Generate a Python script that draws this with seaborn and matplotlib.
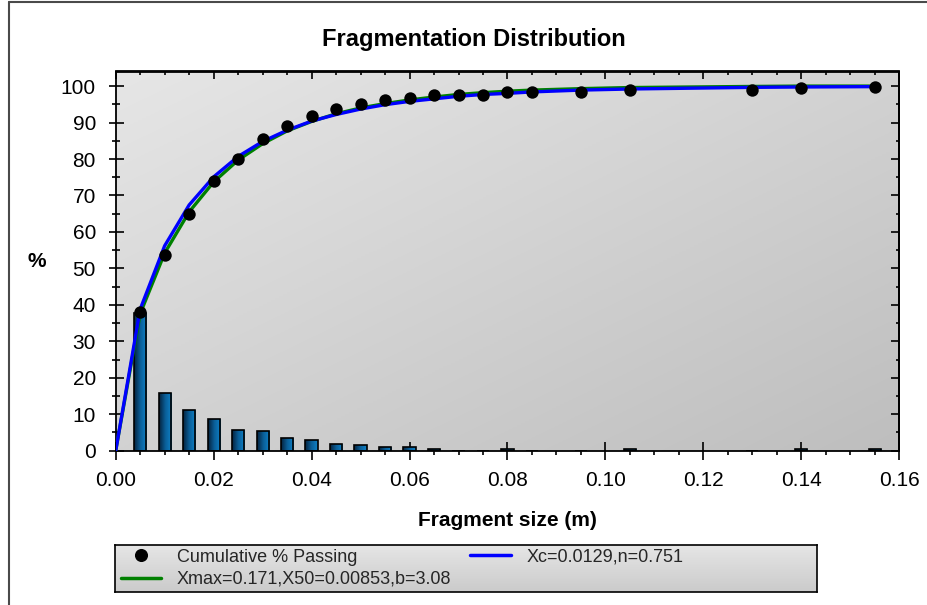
import numpy as np
import matplotlib
matplotlib.use("Agg")
import matplotlib.pyplot as plt
from matplotlib.lines import Line2D
from matplotlib.ticker import MultipleLocator, FormatStrFormatter
from matplotlib.colors import LinearSegmentedColormap
import seaborn as sns

# Screen sizes (m) and measured distribution
sizes = [0.005, 0.010, 0.015, 0.020, 0.025, 0.030, 0.035, 0.040, 0.045, 0.050,
         0.055, 0.060, 0.065, 0.070, 0.075, 0.080, 0.085, 0.095, 0.105, 0.130,
         0.140, 0.155]
retained = [37.8, 15.8, 11.2, 8.6, 5.8, 5.3, 3.5, 3.0, 1.8, 1.5,
            0.9, 0.9, 0.5, 0.0, 0.0, 0.5, 0.0, 0.0, 0.4, 0.0,
            0.4, 0.4]
passing = [38.0, 53.8, 65.0, 74.0, 80.0, 85.4, 89.0, 91.8, 93.6, 95.2,
           96.2, 96.8, 97.5, 97.5, 97.5, 98.3, 98.4, 98.5, 99.0, 99.0,
           99.4, 99.8]

# Fitted curves, sampled at the origin and at each screen size
fit_x = [0.0] + sizes
swebrec = [0.0, 37.6, 54.2, 65.5, 73.7, 79.7, 84.2, 87.7, 90.3, 92.4, 94.0,
           95.2, 96.2, 97.0, 97.7, 98.2, 98.6, 98.9, 99.3, 99.6, 99.9,
           100.0, 100.0]
rosin_rammler = [0.0, 38.8, 56.2, 67.4, 75.1, 80.7, 84.8, 87.9, 90.4, 92.2,
                 93.7, 94.9, 95.8, 96.5, 97.2, 97.7, 98.0, 98.4, 98.9, 99.2,
                 99.65, 99.75, 99.85]

legend_labels = ["Cumulative % Passing",
                 "Xmax=0.171,X50=0.00853,b=3.08",
                 "Xc=0.0129,n=0.751"]

sns.set_theme(style="white")
plt.rcParams["font.family"] = ["Liberation Sans", "DejaVu Sans"]

W, H = 928, 605
fig = plt.figure(figsize=(W / 100, H / 100), dpi=100)
fig.patch.set_facecolor("white")

ax_l, ax_r, ax_t, ax_b = 115.7, 899.3, 71.5, 450.7
ax = fig.add_axes([ax_l / W, 1 - ax_b / H, (ax_r - ax_l) / W, (ax_b - ax_t) / H])

# Diagonal grey gradient for the plotting area
bg_cmap = LinearSegmentedColormap.from_list("bg", ["#e6e6e6", "#bebebe"])
yy, xx = np.mgrid[0:1:200j, 0:1:200j]
ax.imshow((xx + yy) / 2, cmap=bg_cmap, vmin=0, vmax=1, extent=[0, 1, 0, 1],
          transform=ax.transAxes, aspect="auto", zorder=0, interpolation="bilinear")

# Retained-per-size bars with a horizontal blue gradient
sns.barplot(x=sizes, y=retained, native_scale=True, width=0.5, color="#0b5c94",
            saturation=1, edgecolor="black", linewidth=1.2, ax=ax, zorder=2)
bar_cmap = LinearSegmentedColormap.from_list("bar", ["#05223d", "#0a5f99", "#0f82c8"])
hgrad = np.linspace(0, 1, 64).reshape(1, -1)
for p in list(ax.patches):
    h = p.get_height()
    if h <= 0:
        continue
    x0, w = p.get_x(), p.get_width()
    im = ax.imshow(hgrad, cmap=bar_cmap, extent=[x0, x0 + w, 0, h], aspect="auto",
                   zorder=2, interpolation="bilinear")
    im.set_clip_path(p)
    p.set_facecolor("none")
    p.set_zorder(2.5)

# Fitted curves and measured points
sns.lineplot(x=fit_x, y=swebrec, color="#008000", linewidth=2.4, ax=ax,
             estimator=None, sort=False, zorder=3)
sns.lineplot(x=fit_x, y=rosin_rammler, color="#0000ff", linewidth=2.4, ax=ax,
             estimator=None, sort=False, zorder=4)
sns.scatterplot(x=sizes, y=passing, color="black", s=80, linewidth=0, ax=ax, zorder=5)

ax.set_xlim(0, 0.16)
ax.set_ylim(0, 104)
ax.set_xlabel("")
ax.set_ylabel("")
ax.xaxis.set_major_locator(MultipleLocator(0.02))
ax.xaxis.set_minor_locator(MultipleLocator(0.005))
ax.xaxis.set_major_formatter(FormatStrFormatter("%.2f"))
ax.yaxis.set_major_locator(MultipleLocator(10))
ax.yaxis.set_minor_locator(MultipleLocator(5))
ax.tick_params(axis="x", which="major", direction="inout", length=12.7, width=1.2,
               pad=8.6, labelsize=15, color="black", labelcolor="black",
               bottom=True, top=False)
ax.tick_params(axis="x", which="minor", direction="out", length=3, width=1.2,
               color="black", bottom=True, top=False)
ax.tick_params(axis="y", which="major", direction="inout", length=10.8, width=1.2,
               pad=8.8, labelsize=15, color="black", labelcolor="black",
               left=True, right=False)
ax.tick_params(axis="y", which="minor", direction="inout", length=6, width=1.2,
               color="black", left=True, right=False)
for s in ax.spines.values():
    s.set_visible(True)
    s.set_color("black")
    s.set_linewidth(1.3)

# Inward ticks on the top and right edges
top = ax.secondary_xaxis("top")
top.xaxis.set_major_locator(MultipleLocator(0.02))
top.xaxis.set_minor_locator(MultipleLocator(0.005))
top.tick_params(which="major", direction="in", length=5.8, width=1.2, color="black",
                labeltop=False)
top.tick_params(which="minor", direction="in", length=2.9, width=1.2, color="black")
right = ax.secondary_yaxis("right")
right.yaxis.set_major_locator(MultipleLocator(10))
right.yaxis.set_minor_locator(MultipleLocator(5))
right.tick_params(which="major", direction="in", length=5.8, width=1.2, color="black",
                  labelright=False)
right.tick_params(which="minor", direction="in", length=2.5, width=1.2, color="black")
for sec in (top, right):
    for s in sec.spines.values():
        s.set_color("black")
        s.set_linewidth(1.3)

# Titles
fig.text(473.5 / W, 1 - 46 / H, "Fragmentation Distribution", ha="center",
         va="baseline", fontsize=17, fontweight="bold", color="black")
fig.text(507 / W, 1 - 521 / H, "Fragment size (m)", ha="center", va="center",
         fontsize=15, fontweight="bold", color="black")
fig.text(37 / W, 1 - 261 / H, "%", ha="center", va="center",
         fontsize=15, fontweight="bold", color="black")

# Window frame edges
fig.add_artist(Line2D([9 / W, 1], [1 - 1.5 / H] * 2, color="#4a4a4a", lw=1.5))
fig.add_artist(Line2D([9 / W] * 2, [0, 1 - 1.5 / H], color="#4a4a4a", lw=1.5))

# Legend panel
lx0, lx1, ly0, ly1 = 115, 817, 545, 592.3
lax = fig.add_axes([lx0 / W, 1 - ly1 / H, (lx1 - lx0) / W, (ly1 - ly0) / H])
lg_cmap = LinearSegmentedColormap.from_list("lg", ["#e6e6e6", "#cbcbcb"])
lax.imshow(np.linspace(0, 1, 50).reshape(-1, 1), cmap=lg_cmap, aspect="auto",
           extent=[0, 1, 0, 1], interpolation="bilinear")
lax.set_xlim(0, 1)
lax.set_ylim(0, 1)
lax.set_xticks([])
lax.set_yticks([])
for s in lax.spines.values():
    s.set_visible(True)
    s.set_color("black")
    s.set_linewidth(1.2)

handles = [
    Line2D([], [], marker="o", color="black", linestyle="none", markersize=8.4),
    Line2D([], [], color="#008000", lw=2.5),
    Line2D([], [], color="#0000ff", lw=2.5),
]
fig.legend(handles, legend_labels, ncol=2, loc="upper left",
           bbox_to_anchor=(120.7 / W, 1 - 548.5 / H), bbox_transform=fig.transFigure,
           frameon=False, borderpad=0, borderaxespad=0, handlelength=2.25,
           handletextpad=0.87, columnspacing=1.04, labelspacing=0.3, fontsize=13)

fig.savefig("out.png", dpi=100)
